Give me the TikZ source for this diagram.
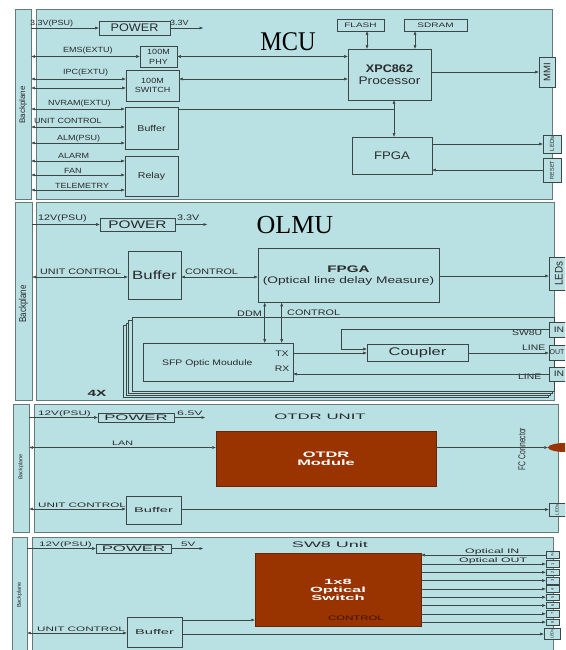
\documentclass[tikz,border=0pt]{standalone}
\usepackage{graphicx}
\usepackage{fontspec}
\setmainfont{Liberation Sans}
\newfontfamily\titlefont{Liberation Serif}
\usetikzlibrary{arrows.meta,shapes.geometric}
\definecolor{pnl}{HTML}{B9E0E3}
\definecolor{pedge}{HTML}{66797B}
\definecolor{ln}{HTML}{3C4646}
\definecolor{txt}{HTML}{2A2A2A}
\definecolor{brn}{HTML}{993300}
\newcommand\sx[2]{\scalebox{#1}[1]{#2}}
\newcommand\fsz[2]{\fontsize{#1}{#2}\selectfont}
\begin{document}
\begin{tikzpicture}[x=1pt,y=-1pt,
  >={Triangle[length=3.5pt,width=2.6pt]},
  panel/.style={draw=pedge,line width=0.8pt,fill=pnl,inner sep=0pt},
  cardst/.style={draw=ln,line width=0.5pt,fill=pnl},
  box/.style={draw=ln,line width=0.6pt,fill=pnl,inner sep=0pt,text=txt,align=center},
  brnbox/.style={draw=brn!70!black,line width=0.5pt,fill=brn,inner sep=0pt,text=white,align=center},
  lbl/.style={inner sep=0pt,anchor=base west,text=txt},
  plain/.style={inner sep=0pt,text=txt},
  lm/.style={lbl,font=\fsz{7.5}{8}},
  lo/.style={lbl,font=\fsz{8}{8}},
  ls/.style={lbl,font=\fsz{6.5}{7}},
  conn/.style={draw=ln,line width=0.5pt}]
\useasboundingbox (0,0) rectangle (565,650);
\clip (0,0) rectangle (565,650);
\fill[white] (0,0) rectangle (565,650);

% ================= MCU =================
\node[panel,minimum width=16,minimum height=190] (bpM) at (23,104) {};
\node[panel,minimum width=516,minimum height=190] (pM) at (294,104) {};
\node[plain,font=\fsz{8}{8}] (bpMl) at (23,105) {\rotatebox{90}{Backplane}};
\node[inner sep=0pt,font=\titlefont\fsz{27}{27}] (tM) at (288,42) {\sx{0.9}{MCU}};

\node[box,minimum width=71,minimum height=14,font=\fsz{11}{11}] (pwrM) at (134.5,28) {\sx{1.15}{POWER}};
\node[lm] (l1) at (30,26) {\sx{1.2}{3.3V(PSU)}};
\node[lm] (l2) at (170,26) {\sx{1.2}{3.3V}};
\coordinate (o1) at (203,28);
\draw[conn,->] (bpM.east |- pwrM.west) -- (pwrM.west);
\draw[conn,->] (pwrM.east) -- (o1);

\node[box,minimum width=37,minimum height=21,font=\fsz{7.5}{10}] (phy) at (158.5,56.5) {\sx{1.2}{100M}\\\sx{1.2}{PHY}};
\node[box,minimum width=53,minimum height=31,font=\fsz{7.5}{9.5}] (swM) at (152.5,85.5) {\sx{1.2}{100M}\\\sx{1.2}{SWITCH}};
\node[box,minimum width=53,minimum height=42,font=\fsz{8.5}{10}] (bufM) at (151.5,128) {\sx{1.25}{Buffer}};
\node[box,minimum width=53,minimum height=40,font=\fsz{8.5}{10}] (relay) at (151.5,176) {\sx{1.25}{Relay}};
\node[box,minimum width=83,minimum height=51,font=\fsz{11}{12}] (proc) at (389.5,74.5) {\textbf{\sx{1.15}{XPC862}}\\\sx{1.25}{Processor}};
\node[box,minimum width=47,minimum height=12,font=\fsz{6.5}{7}] (flash) at (360.5,25) {\sx{1.55}{FLASH}};
\node[box,minimum width=63,minimum height=12,font=\fsz{6.5}{7}] (sdram) at (435.5,25) {\sx{1.55}{SDRAM}};
\node[box,minimum width=80,minimum height=37,font=\fsz{11}{12}] (fpgaM) at (392,155.5) {\sx{1.2}{FPGA}};
\node[box,minimum width=16,minimum height=30,font=\fsz{9.5}{10}] (mmi) at (547,72) {\rotatebox{90}{MMI}};
\node[box,minimum width=18,minimum height=18,font=\fsz{6}{6}] (ledM) at (552,144) {\rotatebox{90}{LEDs}};
\node[box,minimum width=18,minimum height=24,font=\fsz{5.5}{6}] (rstM) at (552,170) {\rotatebox{90}{RESET}};

\node[lm] (l3) at (63,53) {\sx{1.2}{EMS(EXTU)}};
\node[lm] (l4) at (63,75) {\sx{1.2}{IPC(EXTU)}};
\node[lm] (l5) at (48,106) {\sx{1.2}{NVRAM(EXTU)}};
\node[lm] (l6) at (34,124) {\sx{1.2}{UNIT CONTROL}};
\node[lm] (l7) at (57,140) {\sx{1.2}{ALM(PSU)}};
\node[lm] (l8) at (58,158.5) {\sx{1.2}{ALARM}};
\node[lm] (l9) at (64,173) {\sx{1.2}{FAN}};
\node[lm] (l10) at (55,188) {\sx{1.2}{TELEMETRY}};

\draw[conn,<->] (bpM.east |- phy.west) -- (phy.west);
\draw[conn,<->] (phy.east) -- (phy.east -| proc.west);
\coordinate (ipc1) at ([yshift=6.5pt]swM.west);
\coordinate (ipc2) at ([yshift=-2.5pt]swM.west);
\draw[conn,<->] (bpM.east |- ipc1) -- (ipc1);
\draw[conn,<->] (bpM.east |- ipc2) -- (ipc2);
\draw[conn,<->] ([yshift=6.5pt]swM.east) -- ([yshift=6.5pt]swM.east -| proc.west);
\coordinate (nv) at ([yshift=19pt]bufM.west);
\coordinate (ucM) at ([yshift=1pt]bufM.west);
\coordinate (alm) at ([yshift=-15pt]bufM.west);
\draw[conn,<->] (bpM.east |- nv) -- (nv);
\draw[conn,<->] (bpM.east |- ucM) -- (ucM);
\draw[conn,<->] (bpM.east |- alm) -- (alm);
\coordinate (alr) at ([yshift=15pt]relay.west);
\coordinate (fan) at ([yshift=1pt]relay.west);
\coordinate (tel) at ([yshift=-14pt]relay.west);
\draw[conn,<->] (bpM.east |- alr) -- (alr);
\draw[conn,<->] (bpM.east |- fan) -- (fan);
\draw[conn,<->] (bpM.east |- tel) -- (tel);
\coordinate (vj) at (394,109);
\draw[conn] ([yshift=19pt]bufM.east) -- (vj);
\draw[conn,<->] ([xshift=6.5pt]flash.south) -- ([xshift=6.5pt]flash.south |- proc.north);
\draw[conn,<->] ([xshift=-20.5pt]sdram.south) -- ([xshift=-20.5pt]sdram.south |- proc.north);
\draw[conn,<->] ([xshift=4.5pt]proc.south) -- ([xshift=4.5pt]proc.south |- fpgaM.north);
\draw[conn,->] (proc.east |- mmi.west) -- (mmi.west);
\draw[conn,->] (fpgaM.east |- ledM.west) -- (ledM.west);
\draw[conn,->] (rstM.west) -- (rstM.west -| fpgaM.east);

% ================= OLMU =================
\node[panel,minimum width=17,minimum height=198] (bpO) at (23.5,301) {};
\node[panel,minimum width=518,minimum height=198] (pO) at (295,301) {};
\node[plain,font=\fsz{10}{10}] (bpOl) at (23.5,304) {\rotatebox{90}{\sx{0.8}{Backplane}}};
\node[inner sep=0pt,font=\titlefont\fsz{26}{26}] (tO) at (295,225) {OLMU};

\node[box,minimum width=75,minimum height=13,font=\fsz{11}{11}] (pwrO) at (137.5,224.5) {\sx{1.4}{POWER}};
\node[lo] (m1) at (38,220) {\sx{1.35}{12V(PSU)}};
\node[lo] (m2) at (177,220) {\sx{1.35}{3.3V}};
\coordinate (o2) at (207,224.5);
\draw[conn,->] (bpO.east |- pwrO.west) -- (pwrO.west);
\draw[conn,->] (pwrO.east) -- (o2);

\node[box,minimum width=53,minimum height=48,font=\fsz{12}{12}] (bufO) at (154.5,275) {\sx{1.4}{Buffer}};
\node[box,minimum width=181,minimum height=54,font=\fsz{9.5}{10.5}] (fpgaO) at (348.5,275.5) {\textbf{\sx{1.6}{FPGA}}\\\sx{1.45}{(Optical line delay Measure)}};
\node[box,minimum width=20,minimum height=33,font=\fsz{11}{11}] (ledO) at (559,273.5) {\rotatebox{90}{\sx{0.9}{LEDs}}};
\node[lo] (m3) at (40,274) {\sx{1.35}{UNIT CONTROL}};
\node[lo] (m4) at (185,274) {\sx{1.35}{CONTROL}};
\coordinate (ucO) at ([yshift=-2pt]bufO.west);
\draw[conn,<->] (bpO.east |- ucO) -- (ucO);
\draw[conn,<->] ([yshift=-2pt]bufO.east) -- ([yshift=-2pt]bufO.east -| fpgaO.west);
\coordinate (ledOw) at ([yshift=-2.5pt]ledO.west);
\draw[conn,->] (fpgaO.east |- ledOw) -- (ledOw);

\draw[cardst] (123,325) rectangle (548,397);
\draw[cardst] (126,323) rectangle (550,395);
\draw[cardst] (128,320) rectangle (552,393);
\draw[cardst] (132,317) rectangle (554,391);

\node[box,minimum width=150,minimum height=38] (sfp) at (218,362) {};
\node[lo] (m5) at (162,365) {\sx{1.3}{SFP Optic Moudule}};
\node[plain,font=\fsz{8}{8}] (tx) at (282,354) {\sx{1.3}{TX}};
\node[plain,font=\fsz{8}{8}] (rx) at (282,369) {\sx{1.3}{RX}};
\node[box,minimum width=101,minimum height=17,font=\fsz{11}{11}] (cpl) at (417.5,353) {\sx{1.5}{Coupler}};
\node[box,minimum width=20,minimum height=15,font=\fsz{8}{8}] (inA) at (559,329.5) {\sx{1.3}{IN}};
\node[box,minimum width=20,minimum height=15,font=\fsz{7}{7}] (outO) at (559,352.5) {};
\node[plain,font=\fsz{7}{7}] (outl) at (557,352.5) {OUT};
\node[box,minimum width=20,minimum height=14,font=\fsz{8}{8}] (inB) at (559,374) {\sx{1.3}{IN}};
\node[lo] (m6) at (237,316) {\sx{1.35}{DDM}};
\node[lo] (m7) at (287,315) {\sx{1.35}{CONTROL}};
\node[lo] (m8) at (512,335) {\sx{1.3}{SW8U}};
\node[lo] (m9) at (522,350) {\sx{1.3}{LINE}};
\node[lo] (m10) at (518,379) {\sx{1.3}{LINE}};
\node[plain,font=\fsz{9}{9}\bfseries] (fx) at (97,393) {\sx{1.7}{4X}};

\draw[conn,<->] ([xshift=7pt]fpgaO.south west) -- ([xshift=7pt]fpgaO.south west |- sfp.north);
\draw[conn,<->] ([xshift=24pt]fpgaO.south west) -- ([xshift=24pt]fpgaO.south west |- sfp.north);
\draw[conn,->] (sfp.east |- cpl.west) -- (cpl.west);
\coordinate (swc) at (341,329.5);
\draw[conn,->] (inA.west) -- (inA.west -| swc) |- ([yshift=4pt]cpl.west);
\draw[conn,->] (cpl.east) -- (cpl.east -| outO.west);
\draw[conn,->] (inB.west) -- (inB.west -| sfp.east);

% ================= OTDR =================
\node[panel,minimum width=16,minimum height=128] (bpT) at (21,468) {};
\node[panel,minimum width=524,minimum height=128] (pT) at (296,468) {};
\node[plain,font=\fsz{5.5}{6}] (bpTl) at (21,467) {\rotatebox{90}{Backplane}};
\node[box,minimum width=76,minimum height=9,font=\fsz{8}{8}] (pwrT) at (136,417.5) {\sx{2.1}{POWER}};
\node[ls] (n1) at (38,415) {\sx{1.8}{12V(PSU)}};
\node[ls] (n2) at (177,415) {\sx{1.9}{6.5V}};
\coordinate (o3) at (205,417.5);
\draw[conn,->] (bpT.east |- pwrT.west) -- (pwrT.west);
\draw[conn,->] (pwrT.east) -- (o3);
\node[plain,font=\fsz{8}{8}] (tT) at (320,417) {\sx{2.1}{OTDR UNIT}};
\node[brnbox,minimum width=220,minimum height=55,font=\fsz{8}{8.5}\bfseries] (otdr) at (326,458.5) {\sx{2.05}{OTDR}\\\sx{2.05}{Module}};
\node[ellipse,fill=brn,inner sep=0pt,minimum width=34,minimum height=9] (fc) at (565,447.5) {};
\node[plain,font=\fsz{10}{10}] (fcl) at (522,449) {\rotatebox{90}{\sx{0.68}{FC Connector}}};
\node[ls] (n3) at (112,445.5) {\sx{1.65}{LAN}};
\coordinate (lanE) at (otdr.west |- fc.west);
\draw[conn,<->] (bpT.east |- lanE) -- (lanE);
\draw[conn,->] (otdr.east |- fc.west) -- (fc.west);
\node[box,minimum width=55,minimum height=28,font=\fsz{7}{7}] (bufT) at (153.5,510) {\sx{2.1}{Buffer}};
\node[box,minimum width=16,minimum height=13,font=\fsz{4.5}{5}] (ledT) at (557,509.5) {\rotatebox{90}{LEDs}};
\node[ls] (n4) at (38,507.5) {\sx{1.8}{UNIT CONTROL}};
\coordinate (ucT) at ([yshift=1pt]bufT.west);
\draw[conn,<->] (bpT.east |- ucT) -- (ucT);
\draw[conn,->] (bufT.east |- ledT.west) -- (ledT.west);

% ================= SW8 =================
\node[panel,minimum width=15,minimum height=118] (bpS) at (19.5,596) {};
\node[panel,minimum width=521,minimum height=118] (pS) at (292.5,596) {};
\node[plain,font=\fsz{5.5}{6}] (bpSl) at (19.5,595) {\rotatebox{90}{Backplane}};
\node[box,minimum width=75,minimum height=9,font=\fsz{8}{8}] (pwrS) at (133.5,548.5) {\sx{2.1}{POWER}};
\node[ls] (s1) at (39,546.5) {\sx{1.8}{12V(PSU)}};
\node[ls] (s2) at (181,546.5) {\sx{1.8}{5V}};
\coordinate (o4) at (203,548.5);
\draw[conn,->] (bpS.east |- pwrS.west) -- (pwrS.west);
\draw[conn,->] (pwrS.east) -- (o4);
\node[plain,font=\fsz{8}{8}] (tS) at (330,545) {\sx{2.25}{SW8 Unit}};
\node[brnbox,minimum width=166,minimum height=73,font=\fsz{7.5}{8}\bfseries] (osw) at (338,589.5) {\sx{2.2}{1x8}\\\sx{2.2}{Optical}\\\sx{2.2}{Switch}};
\node[ls,text=brn!35!black] (s3) at (328,620.5) {\sx{1.75}{CONTROL}};
\node[box,minimum width=55,minimum height=30,font=\fsz{7}{7}] (bufS) at (154.5,632) {\sx{2.1}{Buffer}};
\node[ls] (s4) at (37,631) {\sx{1.8}{UNIT CONTROL}};
\coordinate (ucS) at ([yshift=-1pt]bufS.west);
\draw[conn,<->] (bpS.east |- ucS) -- (ucS);
\draw[conn,->] ([yshift=12pt]bufS.east) -- ([yshift=12pt]bufS.east -| osw.west);
\node[box,minimum width=16,minimum height=11,font=\fsz{4}{4}] (ledS) at (552,634) {\rotatebox{90}{LEDs}};
\draw[conn,->] (bufS.east |- ledS.west) -- (ledS.west);
\node[box,minimum width=13,minimum height=6.5,font=\fsz{3.5}{4}] (inS) at (552.5,555) {\rotatebox{90}{IN}};
\draw[conn,->] (inS.west) -- (inS.west -| osw.east);
\node[ls] (s5) at (465,553.5) {\sx{1.9}{Optical IN}};
\node[ls] (s6) at (459,562.5) {\sx{1.9}{Optical OUT}};
\foreach \i in {1,...,8} {
  \node[box,minimum width=13,minimum height=6.5,font=\fsz{4}{4}] (out\i) at (552.5,{564+8.3*(\i-1)}) {\rotatebox{90}{\i}};
  \draw[conn,->] (out\i.west -| osw.east) -- (out\i.west);
}
\end{tikzpicture}
\end{document}
